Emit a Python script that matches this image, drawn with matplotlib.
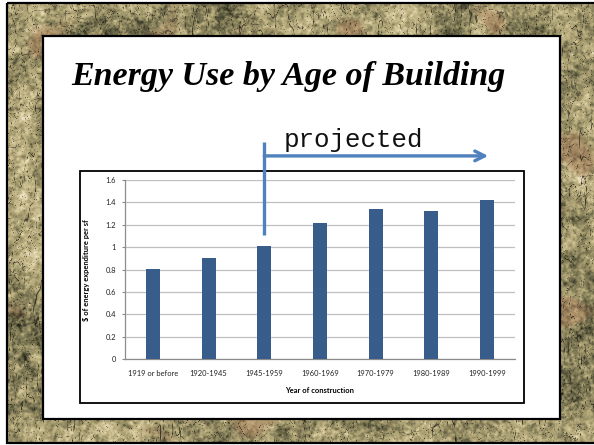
import numpy as np
import matplotlib
matplotlib.use("Agg")
import matplotlib.pyplot as plt
from matplotlib.patches import Rectangle
from matplotlib.colors import LinearSegmentedColormap

# ---- data -------------------------------------------------------------
periods = ["1919 or before", "1920-1945", "1945-1959", "1960-1969",
           "1970-1979", "1980-1989", "1990-1999"]
cost_per_sf = [0.81, 0.90, 1.01, 1.22, 1.34, 1.32, 1.42]
y_ticks = [0, 0.2, 0.4, 0.6, 0.8, 1, 1.2, 1.4, 1.6]
y_tick_labels = ["0", "0.2", "0.4", "0.6", "0.8", "1", "1.2", "1.4", "1.6"]
projection_start = 2  # index of "1945-1959"

W, H = 594, 445
fig = plt.figure(figsize=(W / 100, H / 100), dpi=100)
fig.patch.set_facecolor("white")

# ---- mottled slide backdrop ------------------------------------------
bg = fig.add_axes([0, 0, 1, 1], zorder=0)
bg.set_xlim(0, W)
bg.set_ylim(H, 0)
bg.axis("off")

rng = np.random.default_rng(11)
th, tw = 440, 587
fy = np.fft.fftfreq(th)[:, None]
fx = np.fft.fftfreq(tw)[None, :]


def smooth_noise(sx, sy=None):
    sy = sx if sy is None else sy
    n = rng.standard_normal((th, tw))
    filt = np.exp(-2 * np.pi ** 2 * ((fx * sx) ** 2 + (fy * sy) ** 2))
    out = np.real(np.fft.ifft2(np.fft.fft2(n) * filt))
    return (out - out.mean()) / out.std()


base = (0.45 * smooth_noise(14) + 0.35 * smooth_noise(4)
        + 0.45 * smooth_noise(1.2) + 0.25 * smooth_noise(0.6))
base = (base - base.min()) / (base.max() - base.min())
base = np.clip((base - 0.5) * 1.25 + 0.55, 0, 1)
camo = LinearSegmentedColormap.from_list(
    "camo", ["#1f1d14", "#4c4b34", "#807a56", "#afa476", "#d1c497", "#ebe2c3"])
tex = camo(base)[..., :3]

# faint rusty patches
warm = smooth_noise(12)
wmask = np.clip((warm - 1.2) / 0.8, 0, 1)[..., None] * 0.35
tex = tex * (1 - wmask) + np.array([0.66, 0.44, 0.32]) * wmask

# dark drip-like streaks, mostly vertical
for sx, sy, strength, width in ((2.5, 12, 0.75, 0.06), (6, 3, 0.5, 0.05),
                                (1.5, 5, 0.5, 0.07)):
    r = np.abs(smooth_noise(sx, sy))
    lines = np.clip(1 - r / width, 0, 1)[..., None] * strength
    tex = tex * (1 - lines) + np.array([0.10, 0.09, 0.07]) * lines

bg.imshow(tex, extent=[7, 594, 443, 3], aspect="auto", interpolation="bilinear", zorder=0)
bg.add_patch(Rectangle((7, 3), 594, 440, fill=False, ec="black", lw=1.6, zorder=1))

# white slide panel and chart frame
bg.add_patch(Rectangle((43, 36), 517, 383, fc="white", ec="black", lw=1.6, zorder=2))
bg.add_patch(Rectangle((80, 171), 444, 232, fc="white", ec="black", lw=1.3, zorder=3))

bg.text(288, 76, "Energy Use by Age of Building", ha="center", va="center",
        fontsize=24.5, fontstyle="italic", fontweight="bold",
        family="Liberation Serif", color="black", zorder=4)

# ---- bar chart --------------------------------------------------------
ax = fig.add_axes([125 / W, 1 - 359.3 / H, 390 / W, 179.3 / H], zorder=2)
ax.patch.set_alpha(0)
x = np.arange(len(periods))
ax.bar(x, cost_per_sf, width=0.25, color="#385D8A", zorder=3)
ax.set_xlim(-0.5, len(periods) - 0.5)
ax.set_ylim(0, 1.6)
ax.set_yticks(y_ticks)
ax.set_yticklabels(y_tick_labels)
ax.set_xticks(x)
ax.set_xticklabels(periods)
ax.yaxis.grid(True, color="#bfbfbf", lw=0.9)
ax.set_axisbelow(True)
for s in ("top", "right"):
    ax.spines[s].set_visible(False)
for s in ("left", "bottom"):
    ax.spines[s].set_color("#8c8c8c")
    ax.spines[s].set_linewidth(0.9)
ax.tick_params(axis="y", length=2.5, width=0.8, color="#8c8c8c", pad=4,
               labelsize=5.4, labelcolor="#222222")
ax.tick_params(axis="x", length=0, pad=8, labelsize=5.4, labelcolor="#222222")
for lbl in ax.get_xticklabels() + ax.get_yticklabels():
    lbl.set_family("Lato")
ax.set_xlabel("Year of construction", fontsize=5.4, fontweight="bold",
              family="Lato", labelpad=7)
ax.set_ylabel("$ of energy expenditure per sf", fontsize=5.4, fontweight="bold",
              family="Lato", labelpad=11)

# projection marker: vertical bar at the start, arrow to the latest period
blue = "#4F81BD"
ax.plot([projection_start, projection_start], [1.11, 1.94], color=blue, lw=2.4,
        clip_on=False, solid_capstyle="butt", zorder=5)
ax.annotate("", xy=(6.02, 1.815), xytext=(projection_start, 1.815),
            xycoords="data", textcoords="data", annotation_clip=False,
            arrowprops=dict(arrowstyle="->,head_length=0.7,head_width=0.35",
                            color=blue, lw=2.4, shrinkA=0, shrinkB=0), zorder=5)
ax.text(projection_start + 0.35, 1.895, "projected", family="Liberation Mono",
        fontsize=18.6, color="#111111", ha="left", va="baseline", clip_on=False)

fig.savefig("out.png", dpi=100)
